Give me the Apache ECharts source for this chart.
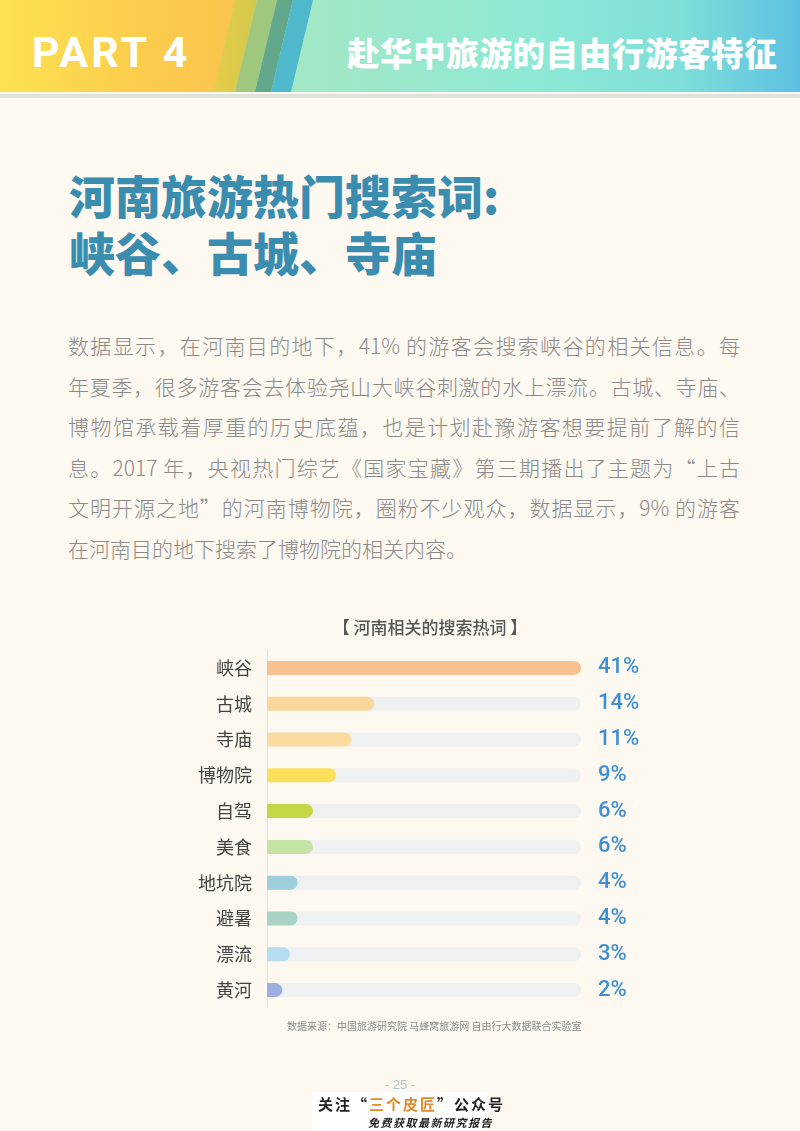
<!DOCTYPE html>
<html>
<head>
<meta charset="utf-8">
<script src="https://cdn.jsdelivr.net/npm/echarts@6/dist/echarts.min.js"></script>
<style>
  html, body { margin:0; padding:0; }
  body { width:800px; height:1131px; background:#fdf8f0; position:relative; overflow:hidden; font-family:"Noto Sans CJK SC","Noto Sans",sans-serif; }
  .abs { position:absolute; }
  #hdr { left:0; top:0; width:800px; height:92px; overflow:hidden;
         background:linear-gradient(90deg,#a5e6c2 0px,#a2e7c6 320px,#8fe9d4 520px,#7fdfd8 680px,#5cc0e2 800px); }
  .stripe { position:absolute; left:0; top:0; width:800px; height:92px; }
  #hdrline { left:0; top:94px; width:800px; height:4px; background:#dde2da; }
  #part { left:32px; top:26px; color:#fff; font-family:Roboto,"Liberation Sans",sans-serif; font-weight:bold; font-size:43px; letter-spacing:3px; line-height:52px; }
  #htitle { left:347px; top:28px; color:#fff; font-weight:900; font-size:32.5px; line-height:48px; letter-spacing:0.6px; }
  #title { left:69px; top:166px; color:#3b8db0; font-weight:900; font-size:46px; line-height:57px; letter-spacing:0px; }
  #para { left:68px; top:325px; width:672px; color:#8a8a8a; font-size:21px; line-height:40.5px; font-weight:300; }
  #para div { white-space:nowrap; text-align:justify; text-align-last:justify; }
  #para div.last { text-align-last:left; }
  #chart { left:0; top:0; width:800px; height:1131px; }
  #pg { left:0; width:800px; top:1077px; text-align:center; color:#a9c2c4; font-size:13px; font-family:"Liberation Sans",sans-serif; }
  #ad { left:312px; top:1092px; width:175px; height:39px; background:#fff; }
  #ad1 { left:318px; top:1094px; font-size:15px; font-weight:bold; color:#222; letter-spacing:2px; line-height:20px; white-space:nowrap; }
  #ad1 span { color:#e08a30; }
  #ad2 { left:368px; top:1114px; font-size:11px; font-weight:bold; color:#222; letter-spacing:1.5px; font-style:italic; white-space:nowrap; }
</style>
</head>
<body>
<div id="hdr" class="abs">
  <div class="stripe" style="clip-path:polygon(0 0,235px 0,213px 92px,0 92px);background:linear-gradient(90deg,#fde251 0px,#fccf4d 120px,#fbc34c 235px);"></div>
  <div class="stripe" style="clip-path:polygon(235px 0,257px 0,235px 92px,213px 92px);background:linear-gradient(90deg,#e6cc48 215px,#d2c84c 257px);"></div>
  <div class="stripe" style="clip-path:polygon(257px 0,277px 0,255px 92px,235px 92px);background:#9fc77e;"></div>
  <div class="stripe" style="clip-path:polygon(277px 0,293px 0,271px 92px,255px 92px);background:#64a88b;"></div>
  <div class="stripe" style="clip-path:polygon(293px 0,313px 0,291px 92px,271px 92px);background:#4fb8ca;"></div>
</div>
<div id="hdrline" class="abs"></div>
<div id="part" class="abs">PART 4</div>
<div id="htitle" class="abs">赴华中旅游的自由行游客特征</div>
<div id="title" class="abs">河南旅游热门搜索词:<br>峡谷、古城、寺庙</div>
<div id="para" class="abs">
  <div>数据显示，在河南目的地下，41% 的游客会搜索峡谷的相关信息。每</div>
  <div>年夏季，很多游客会去体验尧山大峡谷刺激的水上漂流。古城、寺庙、</div>
  <div>博物馆承载着厚重的历史底蕴，也是计划赴豫游客想要提前了解的信</div>
  <div>息。2017 年，央视热门综艺《国家宝藏》第三期播出了主题为“上古</div>
  <div>文明开源之地”的河南博物院，圈粉不少观众，数据显示，9% 的游客</div>
  <div class="last">在河南目的地下搜索了博物院的相关内容。</div>
</div>
<div id="chart" class="abs"></div>
<div id="pg" class="abs">- 25 -</div>
<div id="ad" class="abs"></div>
<div id="ad1" class="abs">关注“<span>三个皮匠</span>”公众号</div>
<div id="ad2" class="abs">免费获取最新研究报告</div>
<script>
const chartTitle = '【 河南相关的搜索热词 】';
const categories = ['峡谷','古城','寺庙','博物院','自驾','美食','地坑院','避暑','漂流','黄河'];
const values = [41, 14, 11, 9, 6, 6, 4, 4, 3, 2];
const barColors = ['#f9c18f','#fad69c','#fbdc9e','#fde05a','#c6d746','#c6e3a6','#9ccfdb','#a8d3c4','#b6dcf1','#9eaee0'];
const sourceNote = '数据来源：中国旅游研究院 马蜂窝旅游网 自由行大数据联合实验室';

const valueLabels = values.map(v => v + '%');
const chart = echarts.init(document.getElementById('chart'), null, {renderer:'canvas'});
chart.setOption({
  backgroundColor: 'transparent',
  animation: false,
  title: {
    text: chartTitle, left: 425, top: 614, textAlign: 'center',
    textStyle: { fontSize: 17, color: '#555', fontWeight: 500, fontFamily: 'Noto Sans CJK SC' }
  },
  grid: { left: 267, top: 650, width: 314, height: 358 },
  xAxis: { type: 'value', min: 0, max: 41, show: false },
  yAxis: [
    { type: 'category', data: categories, inverse: true,
      axisLine: { show: true, lineStyle: { color: '#e7e3dc', width: 1 } },
      axisTick: { show: false },
      axisLabel: { margin: 15, fontSize: 18, color: '#444', fontFamily: 'Noto Sans CJK SC' } },
    { type: 'category', data: valueLabels, inverse: true, position: 'right',
      axisLine: { show: false }, axisTick: { show: false },
      axisLabel: { margin: 17, fontSize: 22, color: '#3e8fd3', align: 'left', fontWeight: 500,
        fontFamily: 'Roboto' } }
  ],
  series: [{
    type: 'bar', yAxisIndex: 0, barWidth: 14,
    data: values.map((v, i) => ({ value: v, itemStyle: { color: barColors[i] } })),
    itemStyle: { borderRadius: [0, 7, 7, 0] },
    showBackground: true,
    backgroundStyle: { color: '#eff0f1', borderRadius: [0, 7, 7, 0] }
  }],
  graphic: [{
    type: 'text', left: 287, top: 1021,
    style: { text: sourceNote, fontSize: 10, fill: '#8a8a8a', fontFamily: 'Noto Sans CJK SC' }
  }]
});
</script>
</body>
</html>
